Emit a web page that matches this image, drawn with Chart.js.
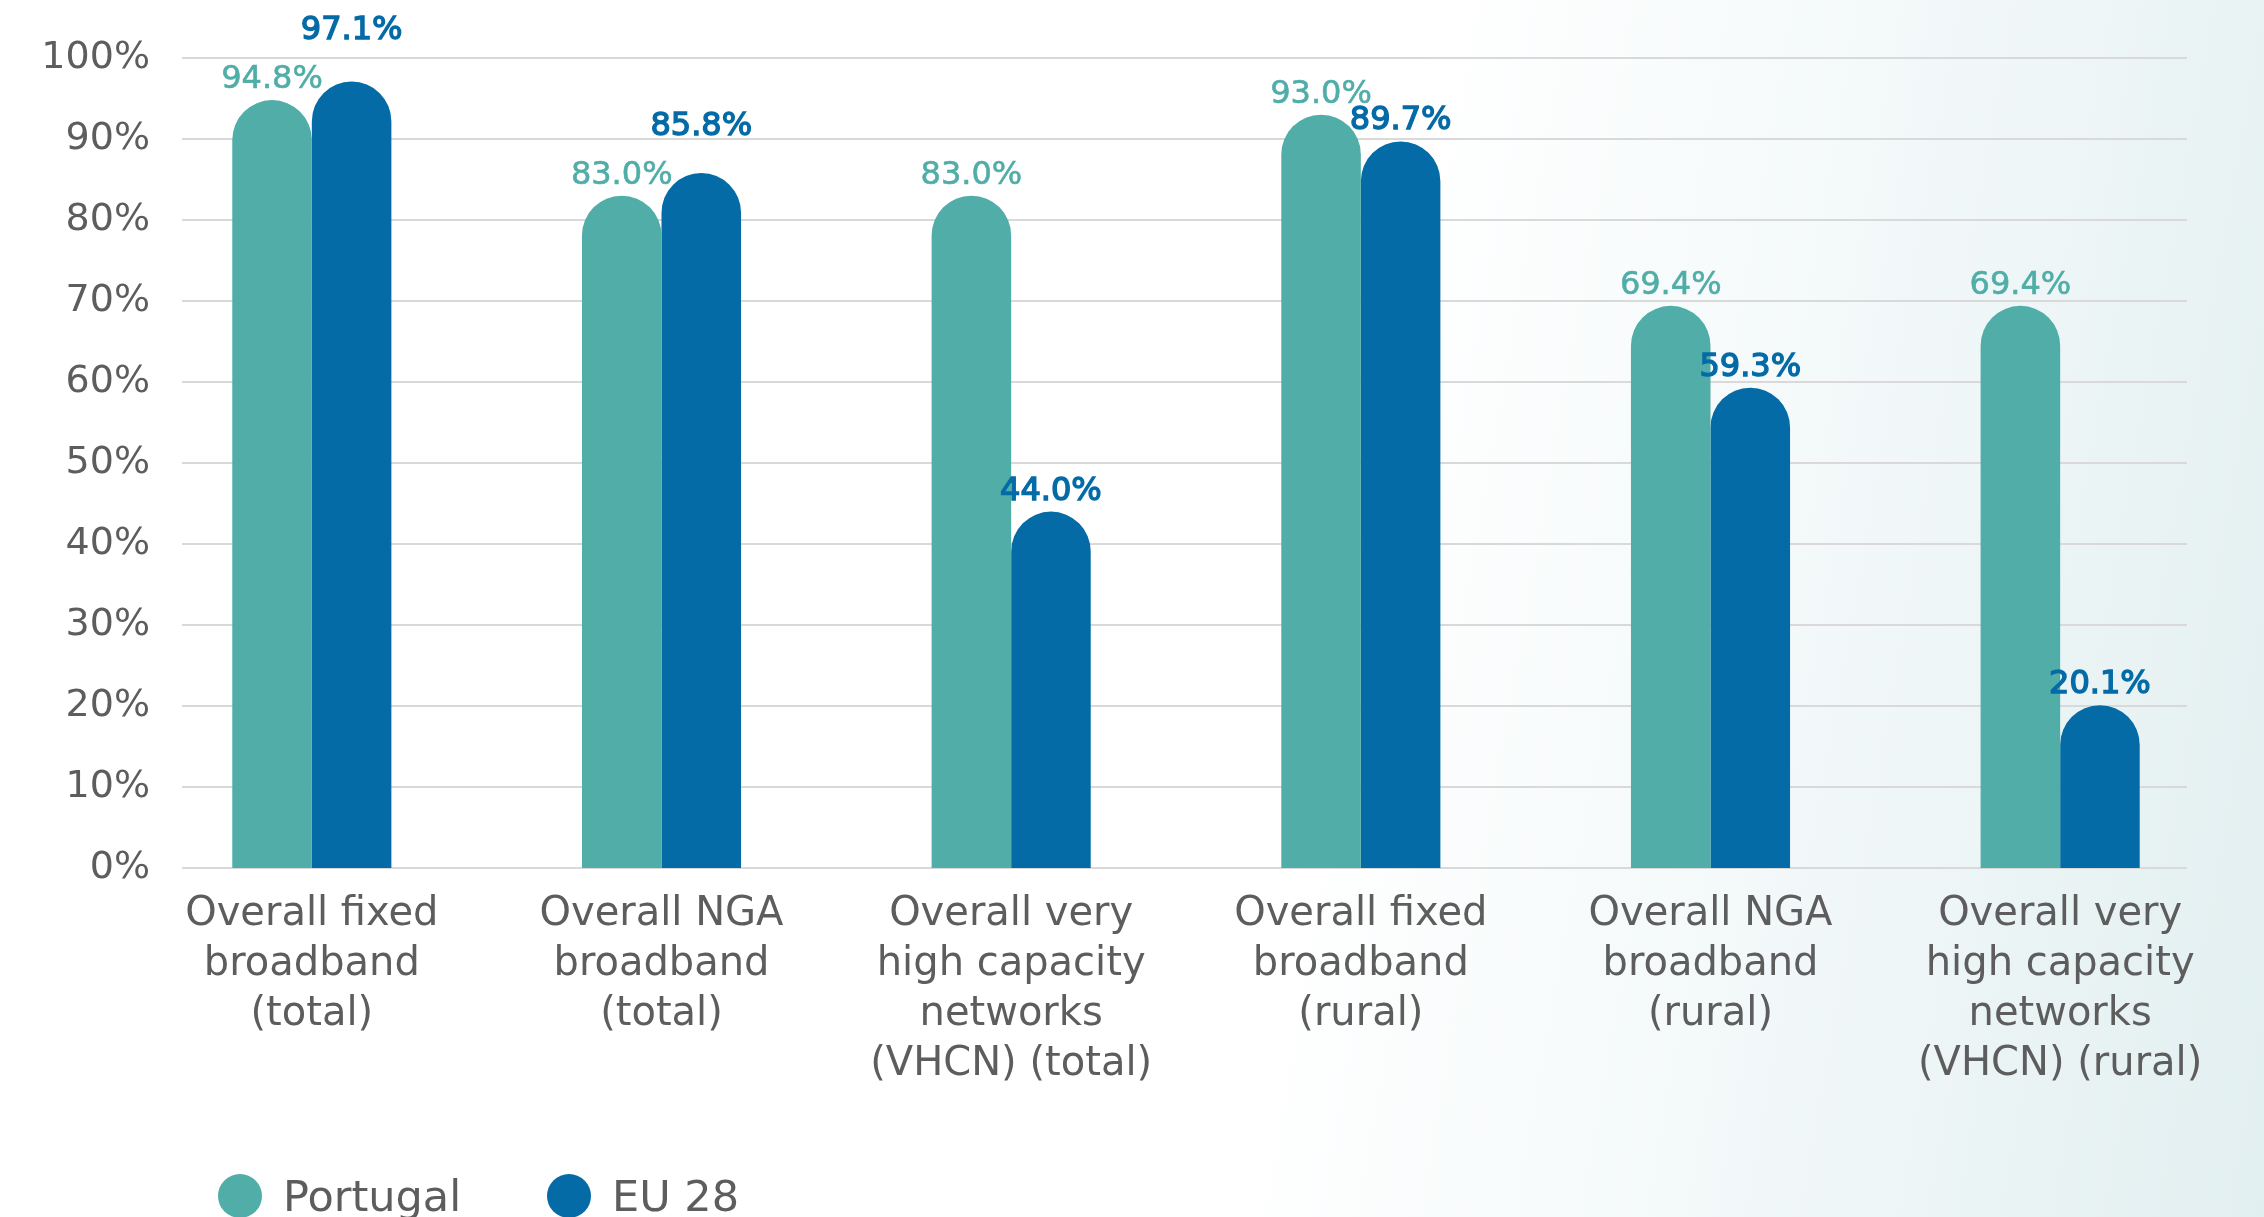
<!DOCTYPE html>
<html>
<head>
<meta charset="utf-8">
<script src="https://cdn.jsdelivr.net/npm/chart.js@4/dist/chart.umd.min.js"></script>
<style>
  html, body { margin: 0; padding: 0; width: 2264px; height: 1217px; overflow: hidden; }
  body {
    background: linear-gradient(100deg, #ffffff 0%, #ffffff 58%, #f4f9fa 76%, #e2eff0 100%);
    font-family: "DejaVu Sans", sans-serif;
    position: relative;
  }
  #chart { position: absolute; left: 0; top: 0; width: 2264px; height: 1217px; }
  .legend-item { position: absolute; top: 1174px; height: 44px; display: flex; align-items: center; }
  .legend-item:nth-child(1) { left: 218px; }
  .legend-item:nth-child(2) { left: 547px; }
  .legend-dot { width: 44px; height: 44px; border-radius: 50%; margin-right: 21px; }
  .legend-text { font-size: 43px; color: #5d5d5d; line-height: 44px; }
</style>
</head>
<body>
<canvas id="chart" width="2264" height="1217"></canvas>
<div id="legend"></div>
<script>
// ---- data ----
const categories = [
  ["Overall fixed", "broadband", "(total)"],
  ["Overall NGA", "broadband", "(total)"],
  ["Overall very", "high capacity", "networks", "(VHCN) (total)"],
  ["Overall fixed", "broadband", "(rural)"],
  ["Overall NGA", "broadband", "(rural)"],
  ["Overall very", "high capacity", "networks", "(VHCN) (rural)"]
];
const seriesNames = ["Portugal", "EU 28"];
const portugalValues = [94.8, 83.0, 83.0, 93.0, 69.4, 69.4];
const eu28Values = [97.1, 85.8, 44.0, 89.7, 59.3, 20.1];
const yTickValues = [0, 10, 20, 30, 40, 50, 60, 70, 80, 90, 100];

// ---- styles ----
const tealColor = "#50ADA8";
const blueColor = "#046BA7";
const textColor = "#5d5d5d";
const gridColor = "#d9d9d9";
const fontFamily = "'DejaVu Sans', sans-serif";

// gridlines and y tick labels, positioned through the y scale
const gridPlugin = {
  id: "insetGrid",
  beforeDatasetsDraw(chart) {
    const { ctx, chartArea } = chart;
    const y = chart.scales.y;
    ctx.save();
    ctx.strokeStyle = gridColor;
    ctx.lineWidth = 2;
    ctx.fillStyle = textColor;
    ctx.font = "38px " + fontFamily;
    ctx.textAlign = "right";
    ctx.textBaseline = "middle";
    y.ticks.forEach(t => {
      const py = Math.round(y.getPixelForValue(t.value));
      ctx.beginPath();
      ctx.moveTo(chartArea.left + 45, py);
      ctx.lineTo(chartArea.right - 48, py);
      ctx.stroke();
      ctx.fillText(t.value + "%", chartArea.left + 13, py);
    });
    ctx.restore();
  }
};

const labelPlugin = {
  id: "valueLabels",
  afterDatasetsDraw(chart) {
    const { ctx } = chart;
    const pt = chart.getDatasetMeta(0).data;
    const eu = chart.getDatasetMeta(1).data;
    const capH = 23, gap = 12;
    ctx.save();
    ctx.font = "32px " + fontFamily;
    ctx.textAlign = "center";
    ctx.textBaseline = "alphabetic";
    pt.forEach((bar, i) => {
      const txt = portugalValues[i].toFixed(1) + "%";
      ctx.fillStyle = tealColor;
      ctx.strokeStyle = tealColor;
      ctx.lineWidth = 0.6;
      ctx.fillText(txt, bar.x, bar.y - gap);
      ctx.strokeText(txt, bar.x, bar.y - gap);
    });
    eu.forEach((bar, i) => {
      let y = bar.y - gap;
      const ptBar = pt[i];
      if (eu28Values[i] > portugalValues[i] && (ptBar.y - bar.y) < capH + 14) {
        y = ptBar.y - gap - capH - 26;
      }
      const txt = eu28Values[i].toFixed(1) + "%";
      ctx.fillStyle = blueColor;
      ctx.strokeStyle = blueColor;
      ctx.lineWidth = 1.4;
      ctx.fillText(txt, bar.x, y);
      ctx.strokeText(txt, bar.x, y);
    });
    ctx.restore();
  }
};

const chart = new Chart(document.getElementById("chart"), {
  type: "bar",
  data: {
    labels: categories,
    datasets: [
      {
        label: seriesNames[0],
        data: portugalValues,
        backgroundColor: tealColor,
        borderRadius: { topLeft: 60, topRight: 60, bottomLeft: 0, bottomRight: 0 },
        borderSkipped: "bottom",
        categoryPercentage: 0.455,
        barPercentage: 1.0
      },
      {
        label: seriesNames[1],
        data: eu28Values,
        backgroundColor: blueColor,
        borderRadius: { topLeft: 60, topRight: 60, bottomLeft: 0, bottomRight: 0 },
        borderSkipped: "bottom",
        categoryPercentage: 0.455,
        barPercentage: 1.0
      }
    ]
  },
  options: {
    responsive: false,
    animation: false,
    devicePixelRatio: 1,
    layout: { padding: { left: 0, right: 29, top: 58, bottom: 0 } },
    plugins: {
      legend: { display: false },
      tooltip: { enabled: false }
    },
    scales: {
      x: {
        grid: { display: false, drawTicks: false },
        border: { display: false },
        ticks: {
          color: textColor,
          font: { family: fontFamily, size: 40, lineHeight: 50 / 40 },
          padding: 22,
          maxRotation: 0,
          autoSkip: false
        },
        afterFit(scale) { scale.height = 349; }
      },
      y: {
        min: 0,
        max: 100,
        afterBuildTicks(scale) { scale.ticks = yTickValues.map(v => ({ value: v })); },
        grid: { display: false, drawTicks: false },
        border: { display: false },
        ticks: { display: false },
        afterFit(scale) { scale.width = 137; }
      }
    }
  },
  plugins: [gridPlugin, labelPlugin]
});

// HTML legend built from the series names and dataset colours
const legend = document.getElementById("legend");
chart.data.datasets.forEach(ds => {
  const item = document.createElement("div");
  item.className = "legend-item";
  const dot = document.createElement("div");
  dot.className = "legend-dot";
  dot.style.background = ds.backgroundColor;
  const txt = document.createElement("span");
  txt.className = "legend-text";
  txt.textContent = ds.label;
  item.appendChild(dot);
  item.appendChild(txt);
  legend.appendChild(item);
});
</script>
</body>
</html>
